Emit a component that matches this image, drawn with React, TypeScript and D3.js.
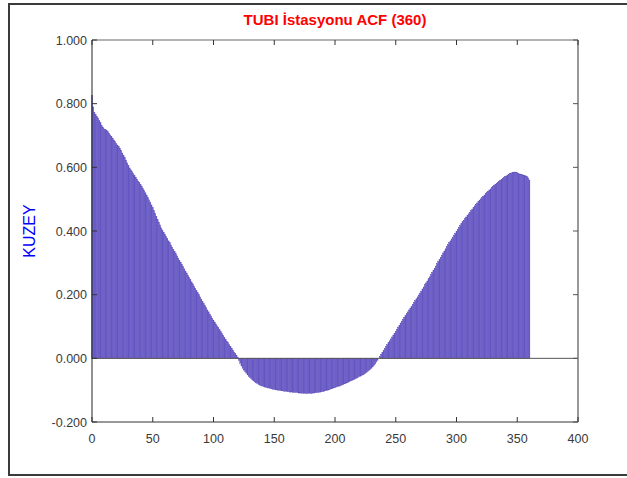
import React from 'react';
import * as d3 from 'd3';

// ACF values for lags 0..360
const acfValues: number[] = [
  0.826, 0.790, 0.772, 0.766, 0.760, 0.755, 0.748, 0.740, 0.731, 0.726,
  0.721, 0.719, 0.717, 0.713, 0.707, 0.702, 0.697, 0.692, 0.686, 0.681,
  0.675, 0.670, 0.665, 0.660, 0.653, 0.645, 0.638, 0.630, 0.622, 0.614,
  0.606, 0.598, 0.592, 0.586, 0.581, 0.575, 0.569, 0.563, 0.557, 0.552,
  0.546, 0.540, 0.533, 0.527, 0.520, 0.513, 0.505, 0.498, 0.490, 0.482,
  0.473, 0.464, 0.455, 0.446, 0.437, 0.428, 0.419, 0.410, 0.403, 0.396,
  0.390, 0.383, 0.376, 0.369, 0.363, 0.356, 0.349, 0.342, 0.336, 0.329,
  0.322, 0.315, 0.308, 0.302, 0.295, 0.288, 0.281, 0.274, 0.268, 0.261,
  0.254, 0.247, 0.240, 0.234, 0.227, 0.220, 0.213, 0.206, 0.200, 0.193,
  0.186, 0.179, 0.172, 0.166, 0.159, 0.152, 0.146, 0.139, 0.133, 0.126,
  0.120, 0.114, 0.108, 0.102, 0.096, 0.090, 0.084, 0.078, 0.072, 0.066,
  0.060, 0.054, 0.049, 0.043, 0.037, 0.032, 0.026, 0.020, 0.015, 0.009,
  0.002, -0.007, -0.016, -0.024, -0.031, -0.037, -0.042, -0.047, -0.052, -0.057,
  -0.061, -0.064, -0.068, -0.071, -0.074, -0.077, -0.079, -0.082, -0.084, -0.086,
  -0.087, -0.089, -0.090, -0.091, -0.092, -0.093, -0.094, -0.095, -0.096, -0.097,
  -0.098, -0.099, -0.099, -0.100, -0.101, -0.101, -0.102, -0.102, -0.103, -0.104,
  -0.104, -0.105, -0.105, -0.106, -0.106, -0.107, -0.107, -0.107, -0.108, -0.108,
  -0.109, -0.109, -0.109, -0.110, -0.110, -0.110, -0.110, -0.111, -0.110, -0.110,
  -0.110, -0.110, -0.109, -0.109, -0.108, -0.108, -0.107, -0.107, -0.106, -0.105,
  -0.105, -0.104, -0.102, -0.101, -0.100, -0.099, -0.097, -0.096, -0.095, -0.093,
  -0.092, -0.091, -0.089, -0.088, -0.087, -0.085, -0.084, -0.082, -0.080, -0.078,
  -0.077, -0.075, -0.073, -0.071, -0.069, -0.068, -0.066, -0.064, -0.062, -0.060,
  -0.058, -0.056, -0.054, -0.052, -0.050, -0.047, -0.044, -0.041, -0.038, -0.035,
  -0.031, -0.027, -0.023, -0.018, -0.012, -0.006, 0.000, 0.006, 0.013, 0.019,
  0.025, 0.031, 0.037, 0.043, 0.049, 0.055, 0.061, 0.067, 0.073, 0.079,
  0.085, 0.091, 0.098, 0.104, 0.111, 0.117, 0.123, 0.129, 0.134, 0.140,
  0.146, 0.152, 0.158, 0.163, 0.169, 0.175, 0.181, 0.187, 0.193, 0.199,
  0.205, 0.211, 0.218, 0.224, 0.231, 0.237, 0.243, 0.250, 0.256, 0.263,
  0.270, 0.277, 0.283, 0.290, 0.297, 0.304, 0.310, 0.317, 0.324, 0.331,
  0.337, 0.344, 0.351, 0.357, 0.363, 0.369, 0.375, 0.381, 0.387, 0.393,
  0.399, 0.405, 0.411, 0.417, 0.423, 0.429, 0.434, 0.439, 0.444, 0.449,
  0.454, 0.459, 0.464, 0.469, 0.474, 0.479, 0.484, 0.488, 0.493, 0.497,
  0.501, 0.505, 0.509, 0.513, 0.517, 0.521, 0.525, 0.529, 0.532, 0.536,
  0.540, 0.544, 0.547, 0.550, 0.553, 0.556, 0.559, 0.562, 0.565, 0.568,
  0.571, 0.573, 0.576, 0.578, 0.581, 0.582, 0.584, 0.585, 0.585, 0.584,
  0.583, 0.581, 0.579, 0.578, 0.577, 0.576, 0.575, 0.573, 0.571, 0.567,
  0.560,
];

const xTicks = [0, 50, 100, 150, 200, 250, 300, 350, 400];
const yTicks = [-0.2, 0, 0.2, 0.4, 0.6, 0.8, 1.0];

const W = 627;
const H = 478;
const left = 92;
const right = 578;
const top = 40;
const bottom = 422;

export default function App() {
  const x = d3.scaleLinear().domain([0, 400]).range([left, right]);
  const y = d3.scaleLinear().domain([-0.2, 1.0]).range([bottom, top]);
  // MATLAB style labels use a plain hyphen for negatives
  const fmt = (v: number) => v.toFixed(3);
  const bw = (x(1) - x(0)) * 0.8;
  const tick = 5;

  return (
    <svg width={W} height={H} style={{ position: 'absolute', left: 0, top: 0 }}
      fontFamily="Arial, 'Liberation Sans', sans-serif">
      <rect width={W} height={H} fill="#fff" />
      {/* outer frame */}
      <path d={`M${W},4 H9 V475 H${W}`} fill="none" stroke="#3a3a3a" strokeWidth={2} />

      {/* bars */}
      <g>
        {acfValues.map((v, i) => (
          <rect key={i}
            x={x(i) - bw / 2}
            y={Math.min(y(v), y(0))}
            width={bw}
            height={Math.abs(y(v) - y(0))}
            fill="#6a5bca"
            stroke="#5243b6"
            strokeWidth={0.4} />
        ))}
      </g>

      {/* zero line */}
      <line x1={left} x2={right} y1={y(0)} y2={y(0)} stroke="#555" strokeWidth={1} />

      {/* axes box */}
      <line x1={left} x2={right} y1={top} y2={top} stroke="#666" />
      <line x1={right} x2={right} y1={top} y2={bottom} stroke="#777" strokeWidth={1.5} />
      <line x1={left} x2={right} y1={bottom} y2={bottom} stroke="#333" />
      <line x1={left} x2={left} y1={top} y2={bottom} stroke="#222" />

      {xTicks.map(t => (
        <g key={`x${t}`}>
          <line x1={x(t)} x2={x(t)} y1={bottom} y2={bottom - tick} stroke="#333" />
          <line x1={x(t)} x2={x(t)} y1={top} y2={top + tick} stroke="#333" />
          <text x={x(t)} y={bottom + 21} textAnchor="middle" fontSize={12.5} fill="#3a3a3a">{t}</text>
        </g>
      ))}
      {yTicks.map(t => (
        <g key={`y${t}`}>
          <line x1={left} x2={left + tick} y1={y(t)} y2={y(t)} stroke="#333" />
          <line x1={right} x2={right - tick} y1={y(t)} y2={y(t)} stroke="#555" />
          <text x={left - 5} y={y(t) + 4.5} textAnchor="end" fontSize={12.5} fill="#3a3a3a">{fmt(t)}</text>
        </g>
      ))}

      <text x={(left + right) / 2} y={25} textAnchor="middle" fontSize={15} fontWeight="bold" fill="#ff0000">
        TUBI İstasyonu ACF (360)
      </text>
      <text transform={`translate(35,${(top + bottom) / 2}) rotate(-90)`} textAnchor="middle"
        fontSize={16} fill="#0000ff">KUZEY</text>
    </svg>
  );
}
